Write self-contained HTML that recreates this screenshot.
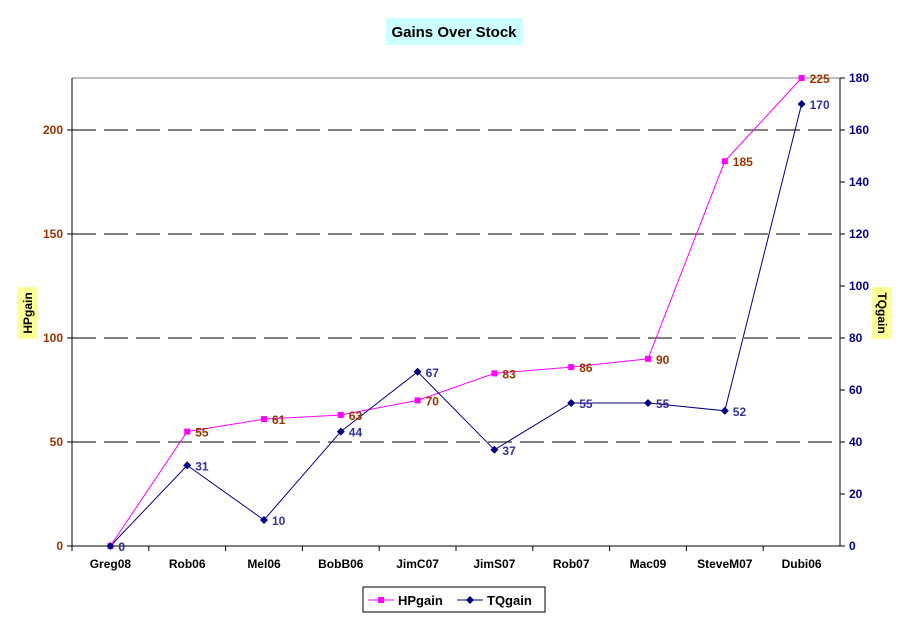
<!DOCTYPE html>
<html><head><meta charset="utf-8"><style>
body{margin:0;background:#fff;font-family:"Liberation Sans",Arial,sans-serif}
svg text{font-family:"Liberation Sans",Arial,sans-serif;font-weight:bold}
</style></head><body>
<svg id="chart" width="909" height="621" xmlns="http://www.w3.org/2000/svg">
<rect x="0" y="0" width="909" height="621" fill="#fff"/>
<rect x="386" y="18" width="137" height="27" fill="#ccffff"/>
<text x="454" y="37" font-size="15" text-anchor="middle" fill="#000">Gains Over Stock</text>
<rect x="17" y="287" width="20" height="52" fill="#ffff99"/>
<text transform="translate(32,313) rotate(-90)" font-size="12" text-anchor="middle">HPgain</text>
<rect x="872" y="287" width="20" height="52" fill="#ffff99"/>
<text transform="translate(878,313) rotate(90)" font-size="12" text-anchor="middle">TQgain</text>
<g id="plot"></g>
<g>
<rect x="363" y="587" width="182" height="25" fill="#fff" stroke="#000"/>
<line x1="368" y1="600" x2="394" y2="600" stroke="#ff00ff"/>
<rect x="378" y="597" width="6" height="6" fill="#ff00ff"/>
<text x="398" y="605" font-size="13">HPgain</text>
<line x1="457" y1="600" x2="483" y2="600" stroke="#000080"/>
<path d="M470 596 L474 600 L470 604 L466 600Z" fill="#000080"/>
<text x="487" y="605" font-size="13">TQgain</text>
</g>
</svg>
<script>
const categories=["Greg08","Rob06","Mel06","BobB06","JimC07","JimS07","Rob07","Mac09","SteveM07","Dubi06"];
const hpValues=[0,55,61,63,70,83,86,90,185,225];
const tqValues=[0,31,10,44,67,37,55,55,52,170];
const leftTicks=[0,50,100,150,200];
const rightTicks=[0,20,40,60,80,100,120,140,160,180];
const L=72,R=840,T=78,B=546,leftMax=225,rightMax=180;
const NS="http://www.w3.org/2000/svg";
const g=document.getElementById('plot');
function el(tag,attrs,parent){const e=document.createElementNS(NS,tag);for(const k in attrs)e.setAttribute(k,attrs[k]);(parent||g).appendChild(e);return e;}
const step=(R-L)/categories.length;
const xs=i=>L+step*(i+0.5);
const yl=v=>B-(v/leftMax)*(B-T);
const yr=v=>B-(v/rightMax)*(B-T);
leftTicks.forEach(v=>{
  if(v>0){const ln=el('line',{x1:L,y1:yl(v),x2:R,y2:yl(v),stroke:'#000','stroke-dasharray':'24,8'});
  }
  el('line',{x1:L-5,y1:yl(v),x2:L,y2:yl(v),stroke:'#000'});
  const t=el('text',{x:L-9,y:yl(v)+4,'font-size':12,'text-anchor':'end',fill:'#993300'});t.textContent=v;
  
});
rightTicks.forEach(v=>{
  el('line',{x1:R,y1:yr(v),x2:R+5,y2:yr(v),stroke:'#000'});
  const t=el('text',{x:R+9,y:yr(v)+4,'font-size':12,fill:'#000080'});t.textContent=v;
  
});
el('line',{x1:L,y1:T,x2:R,y2:T,stroke:'#808080'});
el('line',{x1:L,y1:T,x2:L,y2:B,stroke:'#000'});
el('line',{x1:R,y1:T,x2:R,y2:B,stroke:'#000'});
el('line',{x1:L,y1:B,x2:R,y2:B,stroke:'#000'});
categories.forEach((c,i)=>{
  el('line',{x1:L+step*i,y1:B,x2:L+step*i,y2:B+5,stroke:'#000'});
  const t=el('text',{x:xs(i),y:B+22,'font-size':12,'text-anchor':'middle'});t.textContent=c;
  
});
const hpPath=el('polyline',{points:hpValues.map((v,i)=>xs(i)+','+yl(v)).join(' '),fill:'none',stroke:'#ff00ff'});

const tqPath=el('polyline',{points:tqValues.map((v,i)=>xs(i)+','+yr(v)).join(' '),fill:'none',stroke:'#000080'});

hpValues.forEach((v,i)=>{
  const m=el('rect',{x:xs(i)-3,y:yl(v)-3,width:6,height:6,fill:'#ff00ff'});
  
  const t=el('text',{x:xs(i)+8,y:yl(v)+5,'font-size':12,fill:'#993300'});t.textContent=v;
  
});
tqValues.forEach((v,i)=>{
  const x=xs(i),y=yr(v);
  const m=el('path',{d:`M${x} ${y-4}L${x+4} ${y}L${x} ${y+4}L${x-4} ${y}Z`,fill:'#000080'});
  
  const t=el('text',{x:x+8,y:y+5,'font-size':12,fill:'#333399'});t.textContent=v;
  
});
</script>
</body></html>
